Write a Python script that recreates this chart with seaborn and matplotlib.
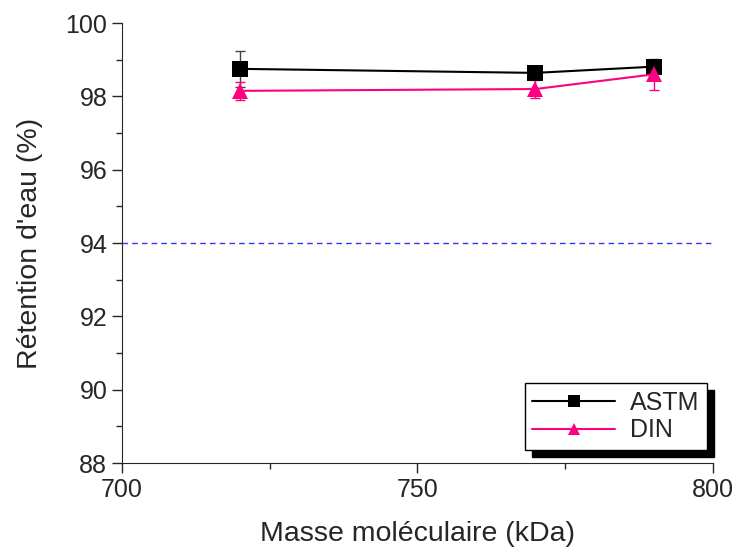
import numpy as np
import pandas as pd
import matplotlib
matplotlib.use('Agg')
import matplotlib.pyplot as plt
import seaborn as sns
from matplotlib.ticker import MultipleLocator

masse = [720, 770, 790]
astm = [98.75, 98.64, 98.81]
astm_err = [0.5, 0.05, 0.1]
din = [98.15, 98.2, 98.6]
din_err = [0.25, 0.25, 0.42]
seuil = 94

sns.set_style('ticks')
plt.rcParams['font.family'] = ['Liberation Sans', 'DejaVu Sans']

df = pd.DataFrame({'masse': masse * 2,
                   'val': astm + din,
                   'serie': ['ASTM'] * 3 + ['DIN'] * 3})

fig = plt.figure(figsize=(7.34, 5.48), dpi=100)
ax = fig.add_axes([0.166, 0.155, 0.805, 0.803])

ax.axhline(seuil, color='#3333ff', ls=(0, (4, 3)), lw=1)
ax.errorbar(masse, astm, yerr=astm_err, fmt='none', ecolor='#444444', capsize=3.5, lw=1)
ax.errorbar(masse, din, yerr=din_err, fmt='none', ecolor='#ff0080', capsize=3.5, lw=1)
sns.lineplot(data=df, x='masse', y='val', hue='serie', style='serie',
             palette={'ASTM': 'black', 'DIN': '#ff0080'},
             markers={'ASTM': 's', 'DIN': '^'}, dashes=False,
             markersize=11, markeredgewidth=0, lw=1.5, ax=ax)

ax.set_xlim(700, 800)
ax.set_ylim(88, 100)
ax.xaxis.set_major_locator(MultipleLocator(50))
ax.xaxis.set_minor_locator(MultipleLocator(25))
ax.yaxis.set_major_locator(MultipleLocator(2))
ax.yaxis.set_minor_locator(MultipleLocator(1))
ax.tick_params(which='major', length=7, width=1, labelsize=18, direction='out')
ax.tick_params(which='minor', length=4, width=1, direction='out')
for s in ['top', 'right']:
    ax.spines[s].set_visible(False)
ax.set_xlabel('Masse moléculaire (kDa)', fontsize=20.5, labelpad=14)
ax.set_ylabel("Rétention d'eau (%)", fontsize=20.5, labelpad=16)

h, l = ax.get_legend_handles_labels()
for hd in h:
    hd.set_markersize(9)
leg = ax.legend(h, l, loc='lower right', bbox_to_anchor=(0.99, 0.03), fontsize=18,
                frameon=True, fancybox=False, edgecolor='black', framealpha=1,
                shadow={'ox': 5, 'oy': -5, 'color': 'black', 'alpha': 1},
                handlelength=3.3, handletextpad=0.6, borderpad=0.3, labelspacing=0.15,
                borderaxespad=0)
leg.get_frame().set_linewidth(1)

fig.savefig('out.png', dpi=100)
